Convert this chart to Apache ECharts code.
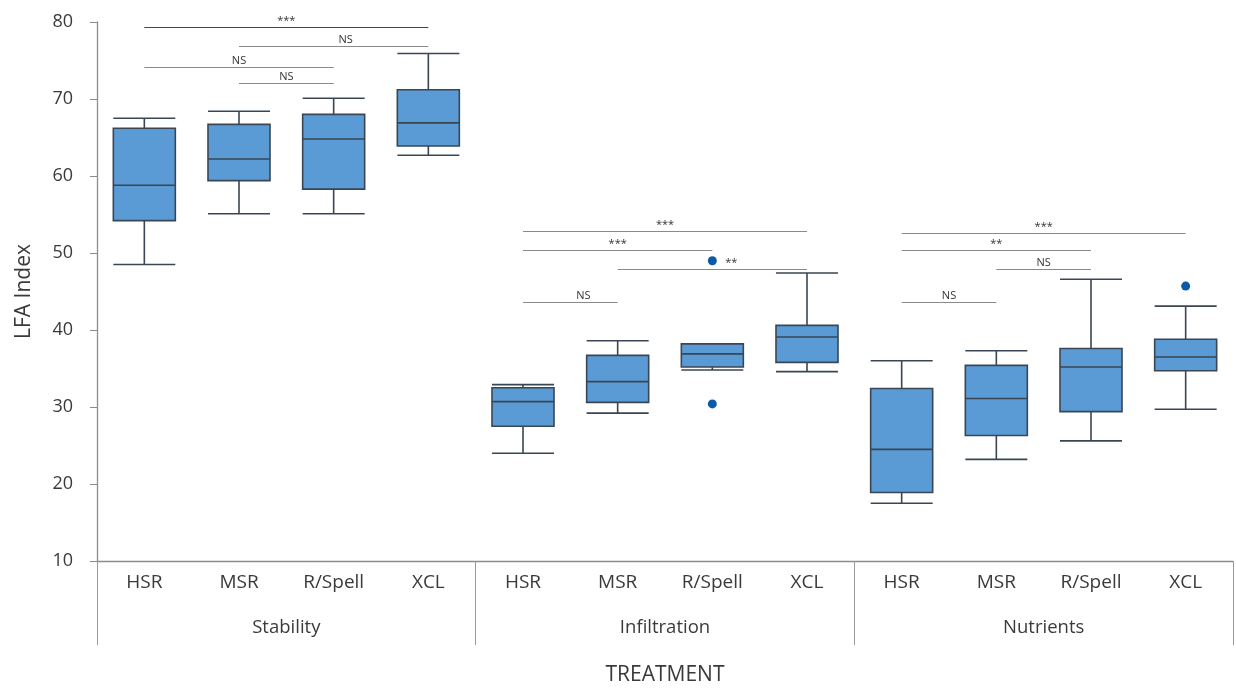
<!DOCTYPE html>
<html>
<head>
<meta charset="utf-8">
<script src="https://cdn.jsdelivr.net/npm/echarts@6/dist/echarts.min.js"></script>
<style>
html,body{margin:0;padding:0;background:#fff;}
#chart{width:1236px;height:691px;}
</style>
</head>
<body>
<div id="chart"></div>
<script>
// ---------- data ----------
const groups = ['Stability', 'Infiltration', 'Nutrients'];
const treatments = ['HSR', 'MSR', 'R/Spell', 'XCL'];
const yTicks = [10, 20, 30, 40, 50, 60, 70, 80];

// [min, Q1, median, Q3, max] per treatment
const stabilityBox = [
  [48.5, 54.2, 58.8, 66.2, 67.5],
  [55.1, 59.4, 62.2, 66.7, 68.4],
  [55.1, 58.3, 64.8, 68.0, 70.1],
  [62.7, 63.9, 66.9, 71.2, 75.9]
];
const infiltrationBox = [
  [24.0, 27.5, 30.7, 32.5, 32.9],
  [29.2, 30.6, 33.3, 36.7, 38.6],
  [34.8, 35.2, 36.9, 38.2, 38.2],
  [34.6, 35.8, 39.1, 40.6, 47.4]
];
const nutrientsBox = [
  [17.5, 18.9, 24.5, 32.4, 36.0],
  [23.2, 26.3, 31.1, 35.4, 37.3],
  [25.6, 29.4, 35.2, 37.6, 46.6],
  [29.7, 34.7, 36.5, 38.8, 43.1]
];

const outlierGroup = ['Infiltration', 'Infiltration', 'Nutrients'];
const outlierTreatment = ['R/Spell', 'R/Spell', 'XCL'];
const outlierValue = [30.4, 49.0, 45.7];

// significance brackets
const sigGroup = ['Stability', 'Stability', 'Stability', 'Stability',
                  'Infiltration', 'Infiltration', 'Infiltration', 'Infiltration',
                  'Nutrients', 'Nutrients', 'Nutrients', 'Nutrients'];
const sigFrom = ['HSR', 'MSR', 'HSR', 'MSR', 'HSR', 'HSR', 'MSR', 'HSR', 'HSR', 'HSR', 'MSR', 'HSR'];
const sigTo = ['XCL', 'XCL', 'R/Spell', 'R/Spell', 'XCL', 'R/Spell', 'XCL', 'MSR', 'XCL', 'R/Spell', 'R/Spell', 'MSR'];
const sigValue = [79.3, 76.8, 74.1, 72.0, 52.8, 50.3, 47.9, 43.6, 52.6, 50.3, 47.9, 43.6];
const sigText = ['***', 'NS', 'NS', 'NS', '***', '***', '**', 'NS', '***', '**', 'NS', 'NS'];

// ---------- build ----------
const boxByGroup = { Stability: stabilityBox, Infiltration: infiltrationBox, Nutrients: nutrientsBox };
const categories = [];
const boxData = [];
groups.forEach(g => {
  treatments.forEach((t, i) => {
    categories.push(g + '|' + t);
    boxData.push(boxByGroup[g][i]);
  });
});
const catIndex = (g, t) => groups.indexOf(g) * treatments.length + treatments.indexOf(t);

const outlierData = outlierValue.map((v, i) => [catIndex(outlierGroup[i], outlierTreatment[i]), v]);

// style-only label offsets (x px) for a few annotations
const labelDx = { 1: 12, 6: 19, 7: 13 };
const markLines = sigValue.map((v, i) => [
  {
    coord: [catIndex(sigGroup[i], sigFrom[i]), v],
    label: { formatter: sigText[i], offset: [labelDx[i] || 0, 0] },
    lineStyle: { color: i === 0 ? '#444' : '#8a8a8a' }
  },
  { coord: [catIndex(sigGroup[i], sigTo[i]), v] }
]);

const font = '"Open Sans", "Noto Sans", sans-serif';
const chart = echarts.init(document.getElementById('chart'));
chart.setOption({
  animation: false,
  backgroundColor: '#fff',
  grid: { left: 97, right: 3, top: 22, bottom: 128, containLabel: false },
  xAxis: [
    {
      type: 'category',
      data: categories,
      boundaryGap: true,
      axisLine: { show: true, lineStyle: { color: '#8c8c8c', width: 1.3 } },
      axisTick: { show: false },
      axisLabel: {
        formatter: v => v.split('|')[1],
        fontFamily: font, fontSize: 19, color: '#3a3a3a', margin: 12, interval: 0
      },
      splitLine: { show: false }
    },
    {
      type: 'category',
      data: groups,
      position: 'bottom',
      boundaryGap: true,
      axisLine: { show: false },
      axisTick: { show: true, length: 84, inside: false, lineStyle: { color: '#9a9a9a', width: 1 } },
      axisLabel: { fontFamily: font, fontSize: 18.5, color: '#3a3a3a', margin: 57, interval: 0 },
      name: 'TREATMENT',
      nameLocation: 'middle',
      nameGap: 104,
      nameTextStyle: { fontFamily: font, fontSize: 21, color: '#3a3a3a' },
      splitLine: { show: false }
    }
  ],
  yAxis: {
    type: 'value',
    min: 10, max: 80, interval: 10,
    name: 'LFA Index',
    nameLocation: 'middle',
    nameGap: 62,
    nameTextStyle: { fontFamily: font, fontSize: 21, color: '#3a3a3a' },
    axisLine: { show: true, lineStyle: { color: '#8c8c8c', width: 1.3 } },
    axisTick: { show: true, length: 7, lineStyle: { color: '#8c8c8c' } },
    axisLabel: {
      fontFamily: font, fontSize: 18, color: '#3a3a3a', margin: 24,
      formatter: v => (yTicks.indexOf(v) >= 0 ? String(v) : '')
    },
    splitLine: { show: false }
  },
  series: [
    {
      type: 'boxplot',
      data: boxData,
      boxWidth: [62, 62],
      itemStyle: { color: '#5b9bd5', borderColor: '#3a4654', borderWidth: 1.6 },
      z: 3
    },
    {
      type: 'scatter',
      data: outlierData,
      symbolSize: 9,
      itemStyle: { color: '#0b5aa8', opacity: 1 },
      z: 4
    },
    {
      type: 'scatter',
      data: [],
      markLine: {
        silent: true,
        symbol: ['none', 'none'],
        animation: false,
        lineStyle: { type: 'solid', width: 1, color: '#8a8a8a' },
        label: {
          show: true,
          position: 'insideMiddleTop',
          distance: 1,
          fontFamily: font,
          fontSize: 11,
          color: '#333'
        },
        data: markLines
      }
    }
  ]
});
</script>
</body>
</html>
